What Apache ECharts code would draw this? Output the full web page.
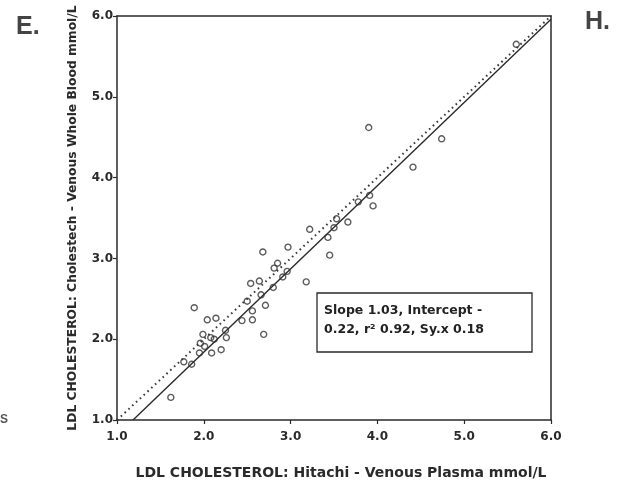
<!DOCTYPE html>
<html><head><meta charset="utf-8">
<script src="https://cdn.jsdelivr.net/npm/echarts@6/dist/echarts.min.js"></script>
<style>html,body{margin:0;padding:0;background:#fff}#c{width:619px;height:488px}</style>
</head><body><div id="c"></div>
<script>
// Data
var hitachi = [1.62,1.77,1.86,1.89,1.95,1.96,1.99,2.01,2.04,2.08,2.09,2.12,2.14,2.20,2.25,2.26,2.44,2.50,2.54,2.56,2.56,2.64,2.66,2.68,2.69,2.71,2.80,2.81,2.85,2.91,2.96,2.97,3.18,3.22,3.43,3.45,3.50,3.53,3.66,3.78,3.90,3.91,3.95,4.41,4.74,5.60];
var cholestech = [1.28,1.72,1.69,2.39,1.83,1.95,2.06,1.91,2.24,2.02,1.83,2.00,2.26,1.87,2.11,2.02,2.23,2.47,2.69,2.35,2.24,2.72,2.55,3.08,2.06,2.42,2.64,2.88,2.94,2.77,2.84,3.14,2.71,3.36,3.26,3.04,3.38,3.49,3.45,3.70,4.62,3.78,3.65,4.13,4.48,5.65];
var slope = 1.03, intercept = -0.22;
var tickVals = [1, 2, 3, 4, 5, 6];
var xTitle = 'LDL CHOLESTEROL: Hitachi - Venous Plasma mmol/L';
var yTitle = 'LDL CHOLESTEROL: Cholestech - Venous Whole Blood mmol/L';
var statText = ['Slope 1.03, Intercept -', '0.22, r\u00b2 0.92, Sy.x 0.18'];

var pts = hitachi.map(function(x, i){ return [x, cholestech[i]]; });
var axMin = tickVals[0], axMax = tickVals[tickVals.length-1];
var regStartX = (axMin - intercept) / slope;
var regLine = [[regStartX, slope*regStartX + intercept], [axMax, slope*axMax + intercept]];
var idLine = [[axMin, axMin], [axMax, axMax]];

var ink = '#2a2a2a';
var font = '"DejaVu Sans", sans-serif';
var font2 = '"Liberation Sans", Arial, sans-serif';
var chart = echarts.init(document.getElementById('c'), null, {renderer:'canvas'});
function axisCommon(){
  return {
    type:'value', min:axMin, max:axMax, interval:1,
    axisLine:{show:true, onZero:false, lineStyle:{color:ink, width:1.5}},
    axisTick:{show:true, length:4, lineStyle:{color:ink, width:1.2}},
    splitLine:{show:false},
    axisLabel:{color:ink, fontFamily:font, fontWeight:'bold', fontSize:12,
      formatter:function(v){ return v.toFixed(1); }},
    nameLocation:'middle',
    nameTextStyle:{color:ink, fontFamily:font, fontWeight:'bold', fontSize:12.3}
  };
}
var xa = axisCommon(); xa.name = xTitle; xa.nameGap = 46; xa.axisLabel.margin = 11;
xa.nameTextStyle.fontSize = 14; xa.nameTextStyle.padding = [0, 0, 0, 14];
var ya = axisCommon(); ya.name = yTitle; ya.nameGap = 38; ya.axisLabel.margin = 4;
var xa2 = {type:'value', min:axMin, max:axMax, position:'top', axisLine:{show:true, lineStyle:{color:ink, width:1.5}}, axisTick:{show:false}, axisLabel:{show:false}, splitLine:{show:false}};
var ya2 = {type:'value', min:axMin, max:axMax, position:'right', axisLine:{show:true, lineStyle:{color:ink, width:1.5}}, axisTick:{show:false}, axisLabel:{show:false}, splitLine:{show:false}};

chart.setOption({
  animation:false,
  backgroundColor:'#fff',
  grid:{left:117, right:68, top:16, bottom:68, outerBoundsMode:'none', containLabel:false},
  xAxis:[xa, xa2],
  yAxis:[ya, ya2],
  series:[
    {type:'line', data:idLine, symbol:'none', lineStyle:{color:'#3a3a3a', width:2, type:[1.6,3.6]}, z:2},
    {type:'line', data:regLine, symbol:'none', lineStyle:{color:ink, width:1.4}, z:3},
    {type:'scatter', data:pts, symbol:'circle', symbolSize:6,
      itemStyle:{color:'rgba(255,255,255,0)', borderColor:'#333', borderWidth:1.4}, z:4}
  ],
  graphic:[
    {type:'rect', shape:{x:317, y:293, width:215, height:59}, style:{fill:'#fff', stroke:ink, lineWidth:1.3}, z:10},
    {type:'text', left:324, top:301, style:{text:statText.join('\n'), fill:'#222', font:'bold 12.5px '+font, lineHeight:19}, z:11},
    {type:'text', left:16, top:15, style:{text:'E.', fill:'#444', font:'bold 25px '+font2}},
    {type:'text', left:585, top:10, style:{text:'H.', fill:'#444', font:'bold 25px '+font2}},
    {type:'text', left:0, top:414, style:{text:'S', fill:'#555', font:'bold 12px '+font2}}
  ]
});
</script></body></html>
